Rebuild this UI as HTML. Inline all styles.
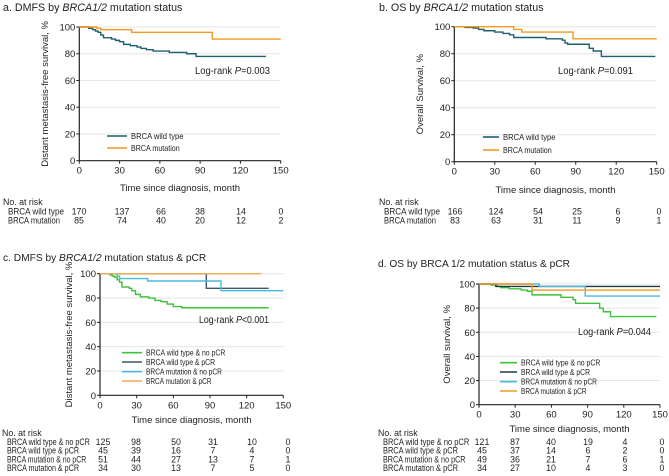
<!DOCTYPE html>
<html><head><meta charset="utf-8">
<style>
body{margin:0;background:#fff;}
svg{display:block;font-family:"Liberation Sans",Arial,sans-serif;}
</style></head>
<body>
<svg id="fig" width="669" height="476" viewBox="0 0 669 476">
<text x="3" y="11" font-size="10.7" fill="#222">a. DMFS by <tspan font-style="italic">BRCA1/2</tspan> mutation status</text>
<text x="379" y="11" font-size="10.7" fill="#222">b. OS by <tspan font-style="italic">BRCA1/2</tspan> mutation status</text>
<text x="3" y="261" font-size="10.2" fill="#222">c. DMFS by <tspan font-style="italic">BRCA1/2</tspan> mutation status &amp; pCR</text>
<text x="378" y="267" font-size="10.2" fill="#222">d. OS by BRCA 1/2 mutation status &amp; pCR</text>
</svg>
<script>
// Panel a data
const aWildT=[0,7,10,12,14,16,18,24,27,30,33,38,43,46,50,55,67,80,87,139];
const aWildS=[100,99,98,97,96,94,92,91,90,89,87,86,85,84,83,82,81,80,78,78];
const aMutT=[0,13,16,39,99,150];
const aMutS=[100,99,98,96,91,91];
const aRiskWild=[170,137,66,38,14,0];
const aRiskMut=[85,74,40,20,12,2];
// Panel b data
const bWildT=[0,8,14,18,22,30,36,41,44,68,80,82,84,100,103,109,149];
const bWildS=[100,99.5,99,98,97,96,95,94,92,91,90,88,87,84,82,78,78];
const bMutT=[0,44,50,88,150];
const bMutS=[100,98,96,91,91];
const bRiskWild=[166,124,54,25,6,0];
const bRiskMut=[83,63,31,11,9,1];
// Panel c data
const cWnT=[0,8,10,12,14,16,18,24,26,29,33,40,45,50,55,60,67,138];
const cWnS=[100,99,98,97,95,93,89,88,86,83,81,80,78,77,75,73,72,72];
const cWpT=[0,87,138];
const cWpS=[100,88,88];
const cMnT=[0,14,16,39,99,150];
const cMnS=[100,98,96,94,86,86];
const cMpT=[0,132];
const cMpS=[100,100];
const cRisk1=[125,98,50,31,10,0];
const cRisk2=[45,39,16,7,4,0];
const cRisk3=[51,44,27,13,7,1];
const cRisk4=[34,30,13,7,5,0];
// Panel d data
const dWnT=[0,10,15,18,25,35,40,44,68,78,80,100,103,109,147];
const dWnS=[100,99,98,97,96,95,94,91,89,87,84,80,77,73,73];
const dWpT=[0,14,150];
const dWpS=[100,98,98];
const dMnT=[0,50,88,150];
const dMnS=[100,98,90,90];
const dMpT=[0,44,150];
const dMpS=[100,95,95];
const dRisk1=[121,87,40,19,4,0];
const dRisk2=[45,37,14,6,2,0];
const dRisk3=[49,36,21,7,6,1];
const dRisk4=[34,27,10,4,3,0];
const xTicks=[0,30,60,90,120,150];
const yTicks=[0,20,40,60,80,100];

const NS="http://www.w3.org/2000/svg";
const svg=document.getElementById('fig');
function mk(tag,attrs,parent){const e=document.createElementNS(NS,tag);for(const k in attrs)e.setAttribute(k,attrs[k]);(parent||svg).appendChild(e);return e;}

function panel(p){
  const g=mk('g',{});
  
  
  const sx=t=>p.x0+(p.x1-p.x0)*t/150;
  const sy=v=>p.y0+(p.y1-p.y0)*(100-v)/100;
  yTicks.forEach(v=>{
    if(v>0){const gl=mk('line',{x1:sx(0),x2:sx(150),y1:sy(v),y2:sy(v),stroke:'#e6e6e6','stroke-width':1},g);
    
    }
    const tk=mk('line',{x1:sx(0)-3,x2:sx(0),y1:sy(v),y2:sy(v),stroke:'#222'},g);
    
    
    const t=mk('text',{x:sx(0)-4,y:sy(v)+3.5,'font-size':9.5,'text-anchor':'end',fill:'#222'},g);t.textContent=v;
    
    
  });
  xTicks.forEach(v=>{
    const tk=mk('line',{x1:sx(v),x2:sx(v),y1:sy(0),y2:sy(0)+3,stroke:'#222'},g);
    
    
    const t=mk('text',{x:sx(v),y:sy(0)+13,'font-size':9.5,'text-anchor':'middle',fill:'#222'},g);t.textContent=v;
    
    
  });
  const ax=mk('path',{d:`M${sx(0)},${sy(100)}V${sy(0)}H${sx(150)}`,fill:'none',stroke:'#222','stroke-width':1.2},g);
  
  
  const xt=mk('text',{x:(sx(0)+sx(150))/2,y:p.xtY,'font-size':9.5,'text-anchor':'middle',fill:'#222'},g);xt.textContent='Time since diagnosis, month';
  
  
  const yc=(sy(0)+sy(100))/2;
  const yt=mk('text',{x:p.ytX,y:yc,'font-size':9.5,'text-anchor':'middle',fill:'#222',transform:`rotate(-90 ${p.ytX} ${yc})`},g);yt.textContent=p.ytitle;
  
  
  p.series.forEach((s,i)=>{
    let d=`M${sx(s.t[0])},${sy(s.s[0])}`;
    for(let k=1;k<s.t.length;k++){d+=`H${sx(s.t[k])}V${sy(s.s[k])}`;}
    const pa=mk('path',{d:d,fill:'none',stroke:s.c,'stroke-width':1.4},g);
    
    
    const ly=p.legY[i];
    const ll=mk('line',{x1:p.legX,x2:p.legX+p.legW,y1:ly,y2:ly,stroke:s.c,'stroke-width':1.6},g);
    
    
    const lt=mk('text',{x:p.legX+p.legW+4,y:ly+3,'font-size':p.legFs,fill:'#222',textLength:s.name.length*p.legCw,lengthAdjust:'spacingAndGlyphs'},g);lt.textContent=s.name;
    
    
  });
  const lr=mk('text',{x:p.lrX,y:p.lrY,'font-size':10,fill:'#222',textLength:p.lrW,lengthAdjust:'spacingAndGlyphs'},g);
  lr.innerHTML='Log-rank <tspan font-style="italic">P</tspan>'+p.pval;
  
  
  const nr=mk('text',{x:p.nrX,y:p.nrY,'font-size':8.8,fill:'#222'},g);nr.textContent='No. at risk';
  
  
  p.risk.forEach((r,i)=>{
    const y=p.nrY+p.rowH*(i+1);
    const nm=p.series[i].name.replace('BRCA mutation & pCR','BRCA mutation  & pCR');
    const lb=mk('text',{x:p.nrX+5,y:y,'font-size':8.8,fill:'#222',textLength:nm.length*p.rCw,lengthAdjust:'spacingAndGlyphs'},g);lb.textContent=nm;
    
    
    r.vals.forEach((v,j)=>{
      const t=mk('text',{x:p.riskX[j],y:y,'font-size':8.8,'text-anchor':'middle',fill:'#222'},g);t.textContent=v;
      
      
    });
  });
}
const teal='#1f5f6e',orng='#f39a1e';
panel({id:'panel-a',x0:79.3,x1:280.7,y0:27,y1:160.7,xtY:191,ytX:48,ytitle:'Distant metastasis-free survival, %',
  series:[{key:'wild',name:'BRCA wild type',t:aWildT,s:aWildS,c:teal},{key:'mut',name:'BRCA mutation',t:aMutT,s:aMutS,c:orng}],
  legX:107,legW:20,legY:[136,148],legFs:8.3,legCw:3.75,lrX:195,lrY:74,lrW:75,pval:'=0.003',
  nrX:3,nrY:205,rowH:9.3,rCw:4.0,risk:[{vals:aRiskWild},{vals:aRiskMut}],riskX:[79,122,161,200,241,281]});
panel({id:'panel-b',x0:454.3,x1:656.7,y0:26.7,y1:161.7,xtY:193,ytX:423,ytitle:'Overall Survival, %',
  series:[{key:'wild',name:'BRCA wild type',t:bWildT,s:bWildS,c:teal},{key:'mut',name:'BRCA mutation',t:bMutT,s:bMutS,c:orng}],
  legX:483,legW:16,legY:[137,150],legFs:8.3,legCw:3.75,lrX:558,lrY:74,lrW:75,pval:'=0.091',
  nrX:379,nrY:205,rowH:9.3,rCw:4.0,risk:[{vals:bRiskWild},{vals:bRiskMut}],riskX:[455,496,538,577,618,659]});
panel({id:'panel-c',x0:100,x1:283.3,y0:273.7,y1:395.3,xtY:423,ytX:72,ytitle:'Distant metastasis-free survival, %',
  series:[{key:'wild-nopcr',name:'BRCA wild type & no pCR',t:cWnT,s:cWnS,c:'#3ec23a'},{key:'wild-pcr',name:'BRCA wild type & pCR',t:cWpT,s:cWpS,c:'#3b5a6a'},
          {key:'mut-nopcr',name:'BRCA mutation & no pCR',t:cMnT,s:cMnS,c:'#4ab9e0'},{key:'mut-pcr',name:'BRCA mutation & pCR',t:cMpT,s:cMpS,c:'#f2a94f'}],
  legX:122,legW:20,legY:[352.7,362,371.7,381],legFs:8,legCw:3.45,lrX:199,lrY:323,lrW:70,pval:'&lt;0.001',
  nrX:2,nrY:436,rowH:8.8,rCw:3.6,risk:[{vals:cRisk1},{vals:cRisk2},{vals:cRisk3},{vals:cRisk4}],riskX:[103,136,176,213,252,288]});
panel({id:'panel-d',x0:479,x1:660,y0:284,y1:404.7,xtY:432,ytX:450,ytitle:'Overall survival, %',
  series:[{key:'wild-nopcr',name:'BRCA wild type & no pCR',t:dWnT,s:dWnS,c:'#3ec23a'},{key:'wild-pcr',name:'BRCA wild type & pCR',t:dWpT,s:dWpS,c:'#1e3a4a'},
          {key:'mut-nopcr',name:'BRCA mutation & no pCR',t:dMnT,s:dMnS,c:'#4ab9e0'},{key:'mut-pcr',name:'BRCA mutation & pCR',t:dMpT,s:dMpS,c:'#f39a1e'}],
  legX:500,legW:17,legY:[362.7,372,381.7,391],legFs:8,legCw:3.45,lrX:578,lrY:335,lrW:73,pval:'=0.044',
  nrX:378,nrY:436,rowH:8.8,rCw:3.75,risk:[{vals:dRisk1},{vals:dRisk2},{vals:dRisk3},{vals:dRisk4}],riskX:[482,515,551,588,625,662]});
</script>
</body></html>
